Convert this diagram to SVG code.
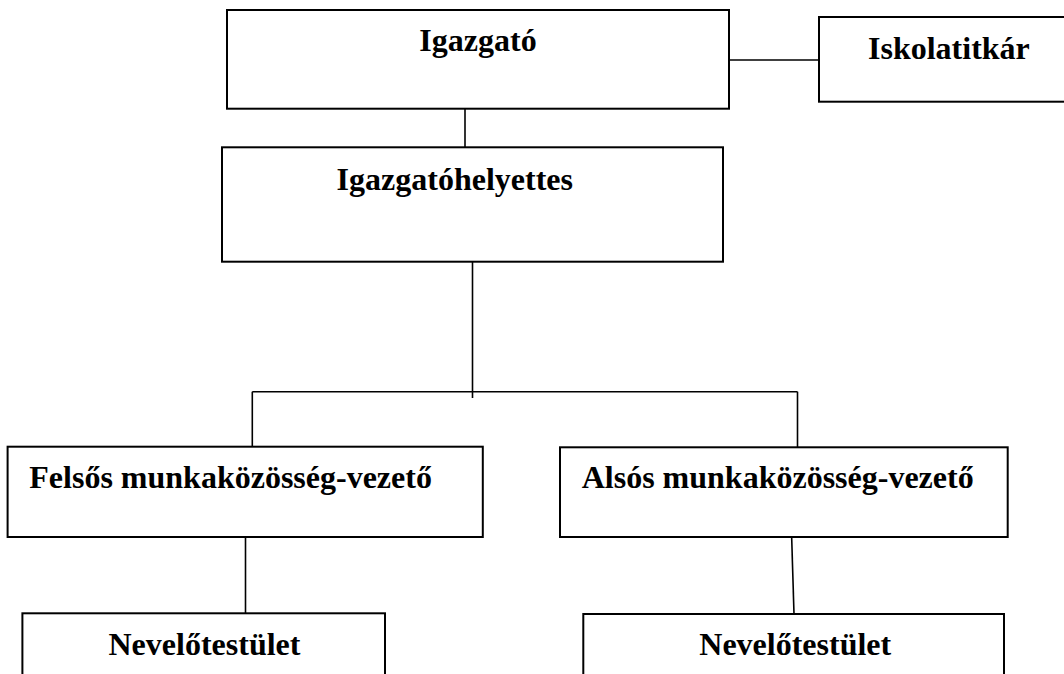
<svg xmlns="http://www.w3.org/2000/svg" width="1064" height="674" viewBox="0 0 1064 674">
<style>
.box{fill:#fff;stroke:#000;stroke-width:2}
.lbl{font-family:"Liberation Serif","Times New Roman",serif;font-weight:bold;font-size:32px;fill:#000}
.con{stroke:#000;stroke-width:1.6;fill:none}
</style>
<rect width="1064" height="674" fill="#fff"/>
<g id="connectors">
<line class="con" x1="729" y1="60" x2="819" y2="60"/>
<line class="con" x1="465" y1="109" x2="465" y2="147"/>
<line class="con" x1="472.5" y1="262" x2="472.5" y2="398"/>
<line class="con" x1="252.3" y1="391.7" x2="797.5" y2="391.7"/>
<line class="con" x1="252.3" y1="391.7" x2="252.3" y2="447"/>
<line class="con" x1="797.5" y1="391.7" x2="797.5" y2="447"/>
<line class="con" x1="245.5" y1="537" x2="245.5" y2="613.5"/>
<line class="con" x1="791.5" y1="531.7" x2="794" y2="614"/>
</g>
<g id="igazgato">
<rect class="box" x="227" y="10" width="502" height="98.7"/>
<text class="lbl" x="478" y="51" text-anchor="middle">Igazgató</text>
</g>
<g id="iskolatitkar">
<rect class="box" x="819" y="17" width="260" height="84.7"/>
<text class="lbl" x="868" y="59">Iskolatitkár</text>
</g>
<g id="igazgatohelyettes">
<rect class="box" x="222" y="147.3" width="501" height="114.4"/>
<text class="lbl" x="336.6" y="190">Igazgatóhelyettes</text>
</g>
<g id="felsos">
<rect class="box" x="7.6" y="446.7" width="475.2" height="90.3"/>
<text class="lbl" x="29.3" y="488.3">Felsős munkaközösség-vezető</text>
</g>
<g id="alsos">
<rect class="box" x="560" y="447.3" width="447.7" height="89.7"/>
<text class="lbl" x="581.7" y="488.3">Alsós munkaközösség-vezető</text>
</g>
<g id="nevelo-felsos">
<rect class="box" x="22.4" y="613.3" width="362.6" height="80"/>
<text class="lbl" x="108.5" y="655">Nevelőtestület</text>
</g>
<g id="nevelo-alsos">
<rect class="box" x="583.3" y="614" width="420.7" height="80"/>
<text class="lbl" x="699.3" y="655">Nevelőtestület</text>
</g>
</svg>
